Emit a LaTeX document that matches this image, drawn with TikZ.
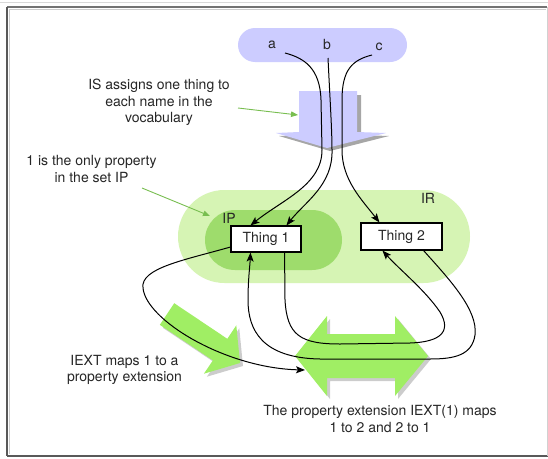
\documentclass[tikz,border=0pt]{standalone}
\usepackage{fontspec}
\setmainfont{TeX Gyre Heros}
\usetikzlibrary{arrows.meta,calc}
\definecolor{lav}{RGB}{204,204,255}
\definecolor{irgreen}{RGB}{214,244,180}
\definecolor{ipgreen}{RGB}{158,220,108}
\definecolor{blockgreen}{RGB}{160,238,100}
\definecolor{notegreen}{RGB}{120,190,80}
\begin{document}
\begin{tikzpicture}[x=1pt,y=-1pt,
  txt/.style={font=\fontsize{14}{16.7}\selectfont, text=black!85, inner sep=0pt, align=center},
  lbl/.style={font=\fontsize{14}{16}\selectfont, text=black!85, inner sep=0pt},
  thing/.style={draw=black, line width=1.1pt, fill=white, font=\fontsize{14}{16}\selectfont,
    text=black!85, inner sep=0pt},
  conn/.style={line width=1pt, -{Stealth[length=9pt,width=7pt,inset=2pt]}},
  note/.style={draw=notegreen, line width=0.9pt, -{Triangle[length=7pt,width=5.5pt]}, notegreen},
  shade/.style={fill=black, opacity=0.2},
]
% canvas
\useasboundingbox (0,0) rectangle (548,458);
\fill[white] (0,0) rectangle (548,458);
\draw[black!15, line width=1pt] (0,2.5) -- (548,2.5);
\draw[black!55, line width=1.6pt] (7,7) -- (547,7);
\draw[black!65, line width=1.6pt] (7,7) -- (7,456);
\draw[black!20, line width=1.2pt] (9.5,9) -- (9.5,454);
\draw[black!20, line width=1.2pt] (9,9.5) -- (546,9.5);
\draw[black!65, line width=2pt] (7,456) -- (548,456);
\draw[black!18, line width=1pt] (547,7) -- (547,456);

% regions
\fill[lav, rounded corners=17pt] (238,28) rectangle (407,62);
\fill[irgreen, rounded corners=46.5pt] (178,190) rectangle (470,283);
\fill[ipgreen, rounded corners=30pt] (205,210) rectangle (342,270);

% purple block arrow (IS)
\fill[black, opacity=0.35] (302,95) -- (361,95) -- (361,135) -- (389,136) -- (330,151) -- (279,136) -- (302,135) -- cycle;
\fill[lav] (299,91) -- (357,91) -- (357,132) -- (386,133) -- (327,148) -- (276,133) -- (299,132) -- cycle;

% green double arrow (IEXT(1))
\coordinate (dbl) at (361,356);
\fill[shade] (298,359) -- (330,319) -- (330,337) -- (398,337) -- (398,319) -- (431,359) -- (398,399) -- (398,381) -- (330,381) -- (330,399) -- cycle;
\fill[blockgreen] (295,356) -- (327,316) -- (327,334) -- (395,334) -- (395,316) -- (428,356) -- (395,396) -- (395,378) -- (327,378) -- (327,396) -- cycle;

% green diagonal arrow (IEXT)
\fill[shade] (177.2,306.2) -- (230.3,341.8) -- (239.3,328.4) -- (243,366) -- (206.9,376.7) -- (215.9,363.4) -- (162.8,327.8) -- cycle;
\fill[blockgreen] (174.2,303.2) -- (227.3,338.8) -- (236.3,325.4) -- (240,363) -- (203.9,373.7) -- (212.9,360.4) -- (159.8,324.8) -- cycle;

% labels
\node[lbl, anchor=base] (a) at (272,48.5) {a};
\node[lbl, anchor=base] (b) at (327,49) {b};
\node[lbl, anchor=base] (c) at (379,50) {c};
\node[lbl, anchor=base] (ir) at (428,203) {IR};
\node[lbl, anchor=base] (ip) at (229,223) {IP};

\node[thing, minimum width=70pt, minimum height=26pt] (t1) at (266,239) {Thing 1};
\node[thing, minimum width=81pt, minimum height=27pt] (t2) at (401.5,236.5) {Thing 2};

% (base anchor = baseline of the last line)
\node[txt, anchor=base] (isnote) at (159,122.9) {IS assigns one thing to\\each name in the\\vocabulary};
\node[txt, anchor=base] (ipnote) at (91.5,182.2) {1 is the only property\\in the set IP};
\node[txt, anchor=base] (iextnote) at (124.5,381.7) {IEXT maps 1 to a\\property extension};
\node[txt, anchor=base] (extnote) at (380,432.2) {The property extension IEXT(1) maps\\1 to 2 and 2 to 1};

% annotation arrows
\coordinate (n1s) at (238,108);
\coordinate (n1e) at (298,115);
\draw[note] (n1s) -- (n1e);
\coordinate (n2s) at (142,188);
\coordinate (n2e) at (210,216);
\draw[note] (n2s) -- (n2e);

% IS mappings
\draw[conn] ($(a.base)+(13,4.5)$) .. controls (304,58) and (320,68) .. (321,100)
  -- (322,150) .. controls (322,185) and (282,200) .. ($(t1.north west)+(20,0)$);
\draw[conn] ($(b.base)+(1,9)$) .. controls (330,100) and (332,130) .. (332,150)
  .. controls (333,185) and (305,202) .. ($(t1.north west)+(56,0)$);
\draw[conn] ($(c.base)+(-7,5)$) .. controls (352,60) and (342,70) .. (342,100)
  -- (342,150) .. controls (342,180) and (362,200) .. ($(t2.north west)+(19,0)$);

% IEXT mappings
\draw[conn] ($(t1.west)+(0,8)$) .. controls (185,260) and (140,268) .. (143,288)
  .. controls (146,320) and (225,368) .. ($(dbl)+(-56,14)$);
\draw[conn] ($(t1.south east)+(-17,0)$) -- (285,300) .. controls (287,335) and (300,344) .. (340,344)
  -- (410,343) .. controls (440,342) and (452,332) .. (440,312)
  .. controls (425,290) and (400,270) .. ($(t2.south west)+(22,0)$);
\draw[conn] ($(t2.south east)+(-19,0)$) .. controls (450,280) and (478,310) .. (475,335)
  .. controls (472,355) and (455,359) .. (430,359) -- (320,359)
  .. controls (262,358) and (248,330) .. (248,300)
  .. controls (248,280) and (250,265) .. ($(t1.south west)+(20,0)$);
\end{tikzpicture}
\end{document}
